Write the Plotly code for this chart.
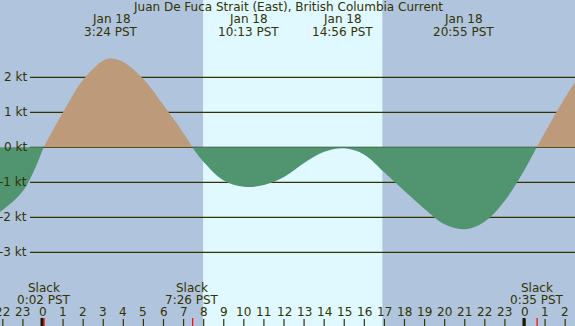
import plotly.graph_objects as go

# ---- data (hours relative to Jan 18 00:00 PST, current in knots) ----
times = [-2.2, -1.0, 0.03, 1.0, 2.0, 3.0, 3.4, 4.0, 5.0, 6.0, 7.0, 7.43, 8.0, 9.0, 10.0,
         11.0, 12.0, 13.0, 14.0, 15.0, 16.0, 17.0, 18.0, 19.0, 20.0, 21.0, 22.0, 23.0,
         24.0, 24.58, 25.0, 26.0, 26.6]
speeds = [-1.87, -1.25, 0.0, 1.0, 1.93, 2.48, 2.54, 2.44, 1.95, 1.2, 0.4, 0.0, -0.42,
          -0.95, -1.13, -1.08, -0.85, -0.45, -0.13, -0.03, -0.21, -0.72, -1.25, -1.76,
          -2.2, -2.34, -2.12, -1.52, -0.62, 0.0, 0.43, 1.42, 1.95]

event_times = [3.4, 10.217, 14.933, 20.917]
event_dates = ["Jan 18", "Jan 18", "Jan 18", "Jan 18"]
event_labels = ["3:24 PST", "10:13 PST", "14:56 PST", "20:55 PST"]

slack_times = [0.033, 7.433, 24.583]
slack_labels = ["0:02 PST", "7:26 PST", "0:35 PST"]

sunrise = 7.97
sunset = 16.9

tick_hours = list(range(-2, 27))
tick_labels = [str(h % 24) for h in tick_hours]
midnights = [0, 24]

kt_levels = [2, 1, 0, -1, -2, -3]
kt_labels = ["2 kt", "1 kt", "0 kt", "-1 kt", "-2 kt", "-3 kt"]

title = "Juan De Fuca Strait (East), British Columbia Current"

# ---- style ----
W, H = 575, 326
NIGHT = "#b0c4de"
DAY = "#e0f8ff"
FLOOD = "#bc9a7a"
EBB = "#509470"
INK = "#333300"
FONT = "DejaVu Sans"
XR = [-2.141, 26.49]
YR = [-5.106, 4.209]


def py(px):
    return 1 - px / H


fig = go.Figure()

# split curve into signed segments at slack points
segments = []
cur_t, cur_v = [times[0]], [speeds[0]]
for t, v in zip(times[1:], speeds[1:]):
    cur_t.append(t)
    cur_v.append(v)
    if v == 0:
        segments.append((cur_t, cur_v))
        cur_t, cur_v = [t], [v]
if len(cur_t) > 1:
    segments.append((cur_t, cur_v))

for st, sv in segments:
    pos = sum(sv) > 0
    fig.add_trace(go.Scatter(
        x=st, y=sv, mode="lines", line=dict(width=0, shape="spline", smoothing=1.0),
        fill="tozeroy", fillcolor=FLOOD if pos else EBB, hoverinfo="skip",
        showlegend=False))

shapes = []
# daylight band
shapes.append(dict(type="rect", xref="x", yref="paper", x0=sunrise, x1=sunset, y0=0, y1=1,
                   fillcolor=DAY, line=dict(width=0), layer="below"))
# grid lines
for k in kt_levels:
    shapes.append(dict(type="line", xref="paper", yref="y", x0=30 / W, x1=1, y0=k, y1=k,
                       line=dict(color=INK, width=1.3), layer="below"))
# hour ticks
for h in tick_hours:
    shapes.append(dict(type="line", xref="x", yref="paper", x0=h, x1=h, y0=0, y1=py(319),
                       line=dict(color=INK, width=1.2)))
for m in midnights:
    shapes.append(dict(type="line", xref="x", yref="paper", x0=m - 0.05, x1=m - 0.05,
                       y0=0, y1=py(318), line=dict(color="#1a1a00", width=3)))
for s in slack_times:
    shapes.append(dict(type="line", xref="x", yref="paper", x0=s + 0.02, x1=s + 0.02,
                       y0=0, y1=py(318), line=dict(color="#ff0000", width=1.2)))

ann = []
f12 = dict(family=FONT, size=12, color=INK)
ann.append(dict(text=title, x=0.5, y=py(7), xref="paper", yref="paper", showarrow=False,
                xanchor="center", yanchor="middle", font=f12))
for t, d, l in zip(event_times, event_dates, event_labels):
    ann.append(dict(text=d, x=t, y=py(19.5), xref="x", yref="paper", showarrow=False,
                    xanchor="center", yanchor="middle", font=f12))
    ann.append(dict(text=l, x=t, y=py(31.8), xref="x", yref="paper", showarrow=False,
                    xanchor="center", yanchor="middle", font=f12))
for t, l in zip(slack_times, slack_labels):
    ann.append(dict(text="Slack", x=t, y=py(287.5), xref="x", yref="paper", showarrow=False,
                    xanchor="center", yanchor="middle", font=f12))
    ann.append(dict(text=l, x=t, y=py(299.5), xref="x", yref="paper", showarrow=False,
                    xanchor="center", yanchor="middle", font=f12))
for h, l in zip(tick_hours, tick_labels):
    ann.append(dict(text=l, x=h, y=py(311.8), xref="x", yref="paper", showarrow=False,
                    xanchor="center", yanchor="middle", font=f12))
for k, l in zip(kt_levels, kt_labels):
    ann.append(dict(text=l, x=29 / W, y=k, xref="paper", yref="y", showarrow=False,
                    xanchor="right", yanchor="middle", font=f12))

fig.update_layout(
    width=W, height=H, margin=dict(l=0, r=0, t=0, b=0),
    paper_bgcolor=NIGHT, plot_bgcolor=NIGHT,
    xaxis=dict(range=XR, visible=False, fixedrange=True),
    yaxis=dict(range=YR, visible=False, fixedrange=True),
    shapes=shapes, annotations=ann, showlegend=False,
)

fig.write_html("out.html", config={"displayModeBar": False},
               post_script="document.body.style.margin='0';document.body.style.overflow='hidden';")
